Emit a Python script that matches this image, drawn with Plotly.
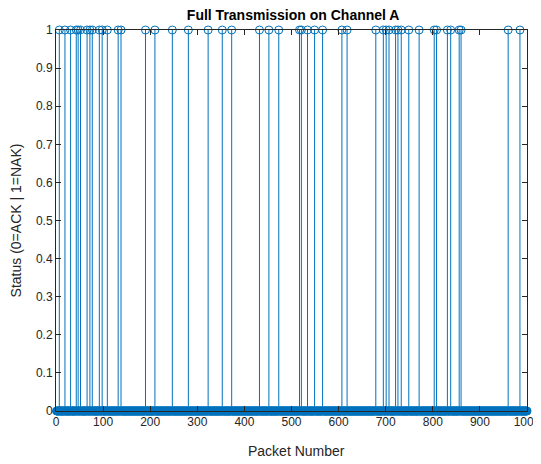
import plotly.graph_objects as go

# Packet numbers flagged NAK (status = 1)
nak_packets = [7, 19, 31, 43, 47, 52, 66, 72, 77, 92, 98, 109, 132, 138, 190, 210,
               247, 281, 323, 353, 373, 432, 452, 473, 517, 521, 534, 549, 566,
               607, 618, 679, 695, 701, 707, 721, 726, 733, 749, 771, 803, 808,
               831, 838, 856, 860, 960, 985]
n_packets = 1000
packets = list(range(1, n_packets + 1))
nak_set = set(nak_packets)
status = [1 if p in nak_set else 0 for p in packets]

x_ticks = list(range(0, 1001, 100))
y_ticks = [round(i * 0.1, 1) for i in range(11)]
y_ticklabels = ["0", "0.1", "0.2", "0.3", "0.4", "0.5", "0.6", "0.7", "0.8", "0.9", "1"]

blue = "#0072BD"
font_family = "Liberation Sans, Arial"

stem_x, stem_y = [], []
for p, s in zip(packets, status):
    if s != 0:
        stem_x += [p, p, None]
        stem_y += [0, s, None]

fig = go.Figure()
fig.add_trace(go.Scatter(x=stem_x, y=stem_y, mode="lines",
                         line=dict(color=blue, width=1), hoverinfo="skip",
                         showlegend=False))
fig.add_trace(go.Scatter(x=packets, y=status, mode="markers",
                         marker=dict(symbol="circle-open", size=8,
                                     color=blue, line=dict(width=1, color=blue)),
                         cliponaxis=False, showlegend=False))

axis_common = dict(showline=True, linecolor="#262626", linewidth=1, mirror="ticks",
                   ticks="inside", ticklen=5, tickcolor="#262626", showgrid=False,
                   zeroline=False, automargin=False,
                   tickfont=dict(family=font_family, size=12, color="#262626"))

fig.update_layout(
    width=533, height=456,
    margin=dict(l=48, r=14, t=22, b=53),
    paper_bgcolor="white", plot_bgcolor="white",
    title=dict(text="<b>Full Transmission on Channel A</b>", x=0.535, xanchor="center",
               y=0.984, yanchor="middle",
               font=dict(family=font_family, size=14, color="black")),
    xaxis=dict(range=[0, 1000], tickvals=x_ticks, **axis_common),
    yaxis=dict(range=[0, 1], tickvals=y_ticks, ticktext=y_ticklabels,
               title=dict(text="Status (0=ACK | 1=NAK)",
                          font=dict(family=font_family, size=14, color="#262626")),
               **axis_common),
    annotations=[dict(text="Packet Number", xref="paper", yref="paper",
                      x=0.51, y=-0.105, xanchor="center", yanchor="middle",
                      showarrow=False,
                      font=dict(family=font_family, size=14, color="#262626"))],
)

fig.write_html("out.html")
